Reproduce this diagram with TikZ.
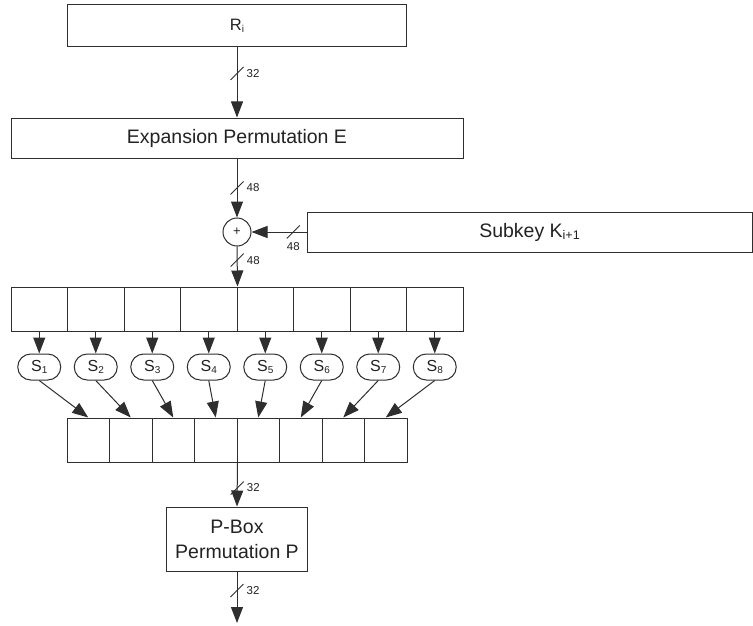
\documentclass[tikz,border=0pt]{standalone}
\usepackage{fontspec}
\setmainfont{Liberation Sans}
\usetikzlibrary{arrows.meta,shapes.misc}

\definecolor{linec}{HTML}{2E2E2E}
\definecolor{txtc}{HTML}{222222}

\tikzset{
  every node/.style={text=txtc},
  box/.style={draw=linec, line width=1pt, inner sep=0pt,
    font=\fontsize{19.5}{25}\selectfont, align=center},
  upcell/.style={draw=linec, line width=1pt, minimum width=56.5pt,
    minimum height=44pt, inner sep=0pt},
  lowcell/.style={draw=linec, line width=1pt, minimum width=42.5pt,
    minimum height=44pt, inner sep=0pt},
  sbox/.style={draw=linec, line width=1pt, rounded rectangle,
    minimum width=43pt, minimum height=26pt, inner sep=0pt,
    font=\fontsize{16}{16}\selectfont},
  xorc/.style={draw=linec, line width=1pt, circle, minimum size=28pt,
    inner sep=0pt, font=\fontsize{13}{13}\selectfont},
  arr/.style={draw=linec, line width=1pt,
    -{Triangle[length=16pt,width=12pt]}},
  buslabel/.style={font=\fontsize{11.5}{12}\selectfont, inner sep=0pt},
  pics/busslash/.style={code={
    \draw[linec, line width=0.9pt] (-6.5pt,-6.5pt) -- (6.5pt,6.5pt);}}
}

\newcommand{\subtxt}[2]{\raisebox{-2.5pt}{\fontsize{#1}{#1}\selectfont #2}}

\begin{document}
\begin{tikzpicture}[x=1pt,y=-1pt]
  \useasboundingbox (0,0) rectangle (753,626);

  % main blocks
  \node[box, minimum width=339pt, minimum height=42pt] (Ri) at (237,26)
    {\fontsize{16.5}{20}\selectfont R\subtxt{10}{i}};
  \node[box, minimum width=452pt, minimum height=40pt] (Exp) at (237,138)
    {Expansion Permutation E};
  \node[xorc] (xor) at (237,232) {+};
  \node[box, minimum width=445pt, minimum height=40pt] (sub) at (529.5,232)
    {Subkey K\subtxt{12.5}{i+1}};
  \node[box, minimum width=141pt, minimum height=64pt] (P) at (237,539)
    {P-Box\\Permutation P};
  \coordinate (out) at (237,623);

  % 48-bit register, S-boxes and 32-bit register
  \foreach \i in {1,...,8} {
    \node[upcell] (u\i) at ({11+56.5*(\i-0.5)},309) {};
    \node[sbox] (s\i) at ({11+56.5*(\i-0.5)},367) {S\subtxt{10}{\i}};
    \node[lowcell] (l\i) at ({67+42.5*(\i-0.5)},440) {};
  }
  \foreach \i in {1,...,8} {
    \draw[arr] (u\i.south) -- (s\i.north);
    \draw[arr] (s\i.south) -- (l\i.north);
  }

  % data path with bus widths
  \draw[arr] (Ri.south) -- coordinate[pos=0.37] (b1) (Ri.south |- Exp.north);
  \draw[arr] (Exp.south) -- coordinate[pos=0.5] (b2) (xor.north);
  \draw[arr] (sub.west) -- coordinate[pos=0.24] (b3) (xor.east);
  \draw[arr] (xor.south) -- coordinate[pos=0.34] (b4) (u4.north east);
  \draw[arr] (l4.south east) -- coordinate[pos=0.58] (b5) (P.north);
  \draw[arr] (P.south) -- coordinate[pos=0.37] (b6) (out);

  \foreach \b in {b1,b2,b3,b4,b5,b6} \pic at (\b) {busslash};

  \node[buslabel, anchor=west] at ([xshift=9.5pt]b1) {32};
  \node[buslabel, anchor=west] at ([xshift=9.5pt]b2) {48};
  \node[buslabel] at ([yshift=-14.5pt]b3) {48};
  \node[buslabel, anchor=west] at ([xshift=9.5pt]b4) {48};
  \node[buslabel, anchor=west] at ([xshift=9.5pt]b5) {32};
  \node[buslabel, anchor=west] at ([xshift=9.5pt]b6) {32};
\end{tikzpicture}
\end{document}
